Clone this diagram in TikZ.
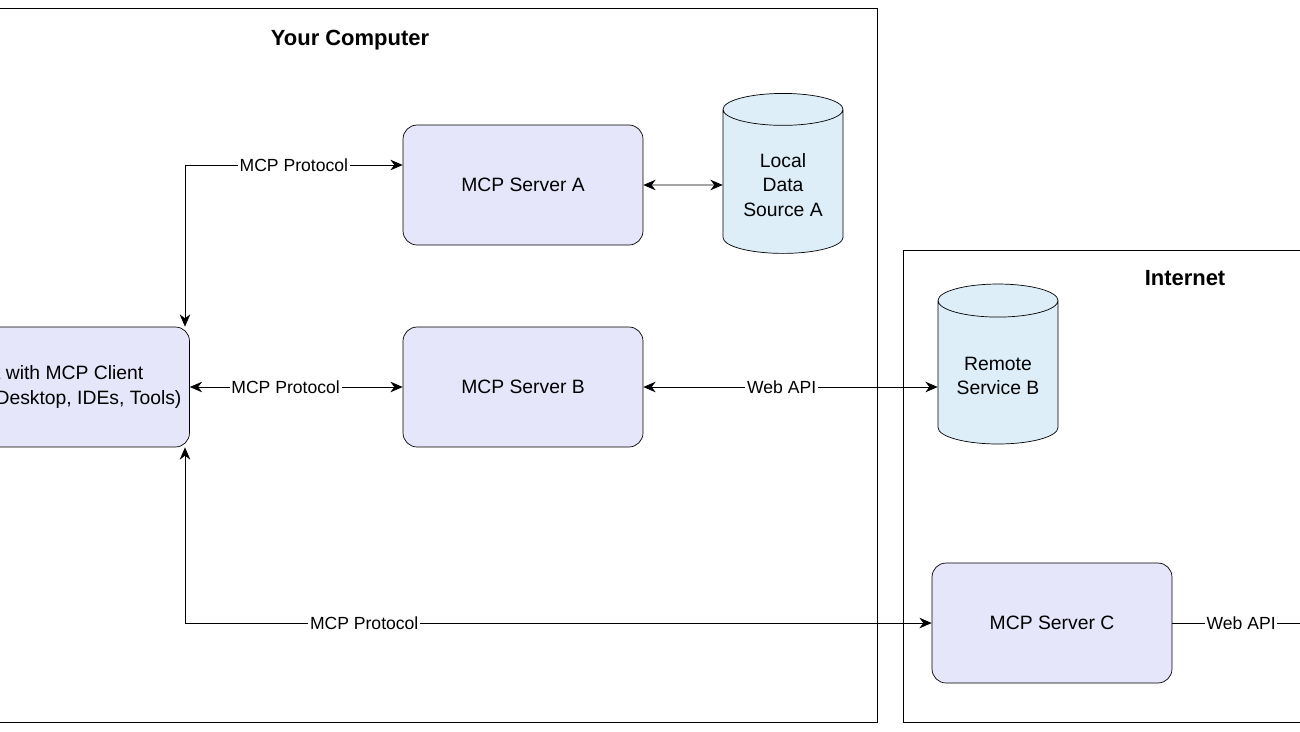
\documentclass[tikz,border=0pt]{standalone}
\usepackage{fontspec}
\setmainfont{Liberation Sans}
\usetikzlibrary{arrows.meta, shapes.geometric, positioning}
\definecolor{boxfill}{HTML}{E6E6FA}
\definecolor{dbfill}{HTML}{DDEEF8}

\begin{document}
\begin{tikzpicture}[x=0.02cm, y=-0.02cm, >={Stealth[length=7pt, width=6pt]}, font=\fontsize{11}{14}\selectfont,
		srv/.style={draw, rounded corners=8pt, fill=boxfill, minimum width=4.8cm, minimum height=2.4cm, align=center},
		db/.style={draw, cylinder, shape border rotate=90, aspect=0.35, fill=dbfill, minimum width=2.4cm, minimum height=3.2cm, align=center},
		lbl/.style={fill=white, inner sep=1pt, font=\fontsize{10}{12}\selectfont},
		ttl/.style={font=\fontsize{12.5}{15}\selectfont\bfseries}]
		\useasboundingbox (0,0) rectangle (1300,731);
		
		\draw (-200,8) rectangle (877,722);
		\draw (903,250) rectangle (1400,722);
		\node[ttl] (tcomp) at (350,40) {Your Computer};
		\node[ttl] (tnet) at (1185,278) {Internet};
		
		\node[srv, minimum width=5.5cm] (client) at (52,387) {Host with MCP Client\\(Claude Desktop, IDEs, Tools)};
		\node[srv] (sa) at (523,185) {MCP Server A};
		\node[srv] (sb) at (523,387) {MCP Server B};
		\node[srv] (sc) at (1052,623) {MCP Server C};
		\node[db] (la) at (783,185) {Local\\Data\\Source A};
		\node[db] (rb) at (998,376) {Remote\\Service B};
		\coordinate (out) at (1310,623);
		
		\draw[<->] (client.north -| 185,0) |- node[lbl, pos=0.75] {MCP Protocol} (sa.west |- 0,165);
		\draw[<->] (sa.east) -- (la.west);
		\draw[<->] (client.east) -- node[lbl, pos=0.45] {MCP Protocol} (sb.west);
		\draw[<->] (sb.east) -- node[lbl, pos=0.47] {Web API} (rb.west |- sb.east);
		\draw[<->] (client.south -| 185,0) |- node[lbl, pos=0.62] {MCP Protocol} (sc.west);
		\draw (sc.east) -- node[lbl, pos=0.5] {Web API} (out);
	\end{tikzpicture}
\end{document}
